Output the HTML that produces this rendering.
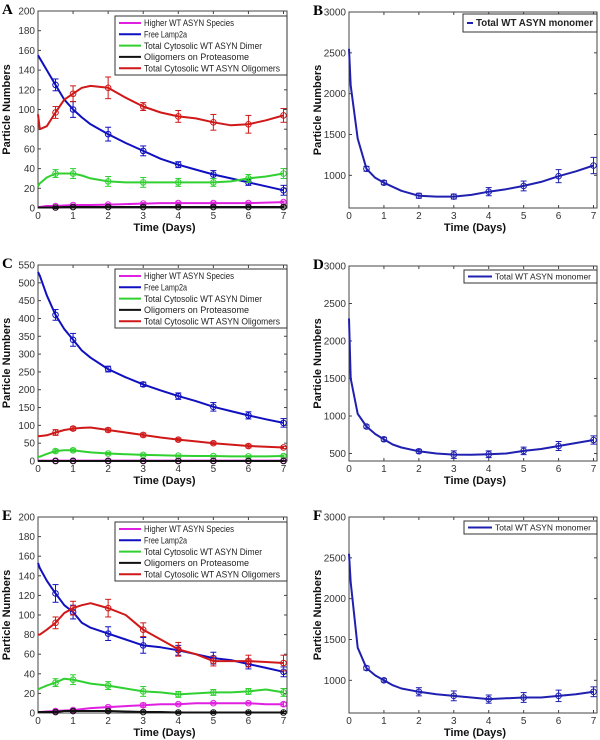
<!DOCTYPE html>
<html><head><meta charset="utf-8"><style>
html,body{margin:0;padding:0;background:#fff;width:600px;height:740px;overflow:hidden}
svg{display:block;font-family:"Liberation Sans",Arial,sans-serif}
</style></head><body>
<svg id="fig" width="600" height="740" viewBox="0 0 600 740"></svg>
<script>
const times=[0,0.05,0.25,0.5,0.75,1,1.25,1.5,2,2.5,3,3.5,4,4.5,5,5.5,6,6.5,7];
const markerTimes=[0.5,1,2,3,4,5,6,7];
const seriesNames=["Higher WT ASYN Species","Free Lamp2a","Total Cytosolic WT ASYN Dimer","Oligomers on Proteasome","Total Cytosolic WT ASYN Oligomers"];
const seriesColors=["#e020e0","#1010c0","#30d030","#111111","#d01818"];
const legendTextLengths=[90,43,118,105,136];
// Panel A
const aMagenta=[1,1,2,2,2.5,3,3,3,3.5,4,4.5,5,5,5,5,5,5,5.5,6];
const aBlue=[155,152,140,125,110,100,92,85,75,66,58,50,44,39,34,30,26,22,18];
const aGreen=[22,25,31,35,35,35,33,30,27,26,26,26,26,26,26,27,30,32,35];
const aBlack=[0.5,0.5,0.5,0.5,1,1,1,1,1,1,1,1,1,1,1,1,1,1,1];
const aRed=[95,80,83,97,110,116,122,124,122,112,103,97,93,91,87,84,85,89,94];
const aErrMagenta=[1,1,1,1,1,1,1,1];
const aErrBlue=[6,8,7,5,3,4,3,5];
const aErrGreen=[4,5,5,5,4,4,4,5];
const aErrBlack=[1,1,1,1,1,1,1,1];
const aErrRed=[6,8,11,4,6,8,9,7];
// Panel B
const bMono=[2550,2100,1450,1080,970,910,860,810,750,740,740,760,800,830,870,920,990,1050,1120];
const bErr=[30,25,30,30,50,60,80,100];
// Panel C
const cMagenta=[1,1,1,1,1,1,1,1,1,1,1,1,1,1,1,1,1,1,1];
const cBlue=[530,520,465,410,370,340,310,290,258,235,215,198,182,168,152,140,128,117,107];
const cGreen=[12,12,20,28,30,30,27,24,21,19,17,16,15,14,14,13,13,13,14];
const cBlack=[0,0,0,0,0,0,0,0,0,0,0,0,0,0,0,0,0,0,0];
const cRed=[70,70,72,80,87,91,93,94,87,80,73,66,60,55,50,46,42,40,38];
const cErrBlue=[15,18,8,6,9,12,10,12];
const cErrRed=[8,5,5,5,4,4,5,3];
const cErrGreen=[5,4,3,3,2,2,2,3];
const cErrSmall=[1,1,1,1,1,1,1,1];
// Panel D
const dMono=[2300,1500,1030,860,760,690,620,580,530,500,485,483,490,500,535,560,600,640,680];
const dErr=[20,25,25,50,45,50,60,55];
// Panel E
const eMagenta=[1,1,1.5,2,2.5,3,4,5,6,7,8,9,9,10,10,10,10,9,9];
const eBlue=[153,148,135,122,110,103,92,87,81,75,69,67,64,60,56,54,50,46,42];
const eGreen=[24,25,28,31,35,34,32,30,28,25,22,21,19,20,21,21,22,24,21];
const eBlack=[1,1,1,1,2,2,2,2,2,1.5,1,1,0.5,0.5,0.5,0.5,0.5,0.5,0.5];
const eRed=[80,80,85,92,102,107,110,112,107,100,85,75,65,60,53,53,53,52,51];
const eErrMagenta=[1,1,1,2,1,1,1,2];
const eErrBlue=[9,7,7,8,5,6,5,5];
const eErrGreen=[4,5,4,5,3,3,3,4];
const eErrBlack=[1,1,1,1,1,1,1,1];
const eErrRed=[6,7,9,7,7,5,6,8];
// Panel F
const fMono=[2550,2200,1400,1150,1060,1000,940,900,860,830,810,790,770,780,790,790,810,830,860];
const fErr=[25,20,50,60,50,60,70,60];
const xTicks=[0,1,2,3,4,5,6,7];

const NS="http://www.w3.org/2000/svg";
const svg=document.getElementById('fig');
function mk(tag,attrs,parent){const e=document.createElementNS(NS,tag);for(const k in attrs)e.setAttribute(k,attrs[k]);(parent||svg).appendChild(e);return e;}
function txt(s,attrs,parent){const e=mk('text',attrs,parent);e.textContent=s;return e;}

function interpAt(vals,t){for(let i=0;i<times.length-1;i++){if(t>=times[i]&&t<=times[i+1]){const f=(t-times[i])/(times[i+1]-times[i]);return vals[i]+f*(vals[i+1]-vals[i]);}}return vals[vals.length-1];}

function panel(cfg){
  const g=mk('g',{});
  
  
  const L=cfg.x0,R=cfg.x1,T=cfg.y0,B=cfg.y1;
  const xs=t=>L+t/7.1*(R-L);
  const ys=v=>B-(v-cfg.ymin)/(cfg.ymax-cfg.ymin)*(B-T);
  const lab=txt(cfg.letter,{x:L-36,y:T+3,'font-family':'Liberation Serif,serif','font-weight':'bold','font-size':15,fill:'#000'},g);
  
  
  mk('rect',{x:L,y:T,width:R-L,height:B-T,fill:'#fff',stroke:'#444','stroke-width':1},g);
  xTicks.forEach(t=>{const x=xs(t);
    mk('line',{x1:x,y1:B,x2:x,y2:B-3,stroke:'#444'},g);mk('line',{x1:x,y1:T,x2:x,y2:T+3,stroke:'#444'},g);
    const tl=txt(String(t),{x:x,y:B+11,'text-anchor':'middle','font-size':10,fill:'#333'},g);
    
    });
  cfg.yTicks.forEach(v=>{const y=ys(v);
    mk('line',{x1:L,y1:y,x2:L+3,y2:y,stroke:'#444'},g);mk('line',{x1:R,y1:y,x2:R-3,y2:y,stroke:'#444'},g);
    const tl=txt(String(v),{x:L-3,y:y+3.5,'text-anchor':'end','font-size':10,fill:'#333'},g);
    
    });
  const xt=txt('Time (Days)',{x:(L+R)/2+2,y:B+23,'text-anchor':'middle','font-size':11,'font-weight':'bold',fill:'#111'},g);
  
  
  const yx=L-28,yy=(T+B)/2;
  const yt=txt('Particle Numbers',{x:yx,y:yy,transform:`rotate(-90 ${yx} ${yy})`,'text-anchor':'middle','font-size':11,'font-weight':'bold',fill:'#111'},g);
  
  
  cfg.series.forEach((s,si)=>{
    const sg=mk('g',{},g);
    
    
    const pts=times.map((t,i)=>xs(t).toFixed(1)+','+ys(s.vals[i]).toFixed(1)).join(' ');
    mk('polyline',{points:pts,fill:'none',stroke:s.color,'stroke-width':2,'stroke-linejoin':'round'},sg);
    markerTimes.forEach((t,i)=>{const x=xs(t),v=interpAt(s.vals,t),e=s.err[i];
      const y1=ys(v-e),y2=ys(v+e);
      mk('line',{x1:x,y1:y1,x2:x,y2:y2,stroke:s.color,'stroke-width':1},sg);
      mk('line',{x1:x-3,y1:y1,x2:x+3,y2:y1,stroke:s.color,'stroke-width':1},sg);
      mk('line',{x1:x-3,y1:y2,x2:x+3,y2:y2,stroke:s.color,'stroke-width':1},sg);
      const c=mk('circle',{cx:x,cy:ys(v),r:2.8,fill:'none',stroke:s.color,'stroke-width':1},sg);
      
      
    });
  });
  const lg=cfg.legend;
  const lgg=mk('g',{},g);
  
  
  mk('rect',{x:lg.x,y:lg.y,width:lg.w,height:lg.h,fill:'#fff',stroke:'#333','stroke-width':1},lgg);
  lg.items.forEach((it,i)=>{
    const y=lg.y+lg.pad+i*lg.step;
    const e=mk('g',{},lgg);
    
    
    mk('line',{x1:lg.x+4,y1:y,x2:lg.x+lg.lineW,y2:y,stroke:it.color,'stroke-width':2},e);
    txt(it.name,{x:lg.x+lg.lineW+3,y:y+3.2,'font-size':lg.fs,'font-weight':lg.bold?'bold':'normal',fill:'#222',textLength:it.tl,lengthAdjust:'spacingAndGlyphs'},e);
  });
}
function multi(vals,errs){return seriesNames.map((n,i)=>({key:['higher','lamp2a','dimer','proteasome','oligomers'][i],color:seriesColors[i],vals:vals[i],err:errs[i]}));}
function legMulti(y){return {x:115,y:y,w:172,h:59,pad:7,step:11.3,lineW:26,fs:9,items:seriesNames.map((n,i)=>({name:n,color:seriesColors[i],tl:legendTextLengths[i]}))};}

panel({letter:'A',x0:38,x1:287,y0:11,y1:208,ymin:0,ymax:200,yTicks:[0,20,40,60,80,100,120,140,160,180,200],
  series:multi([aMagenta,aBlue,aGreen,aBlack,aRed],[aErrMagenta,aErrBlue,aErrGreen,aErrBlack,aErrRed]),legend:legMulti(16)});
panel({letter:'B',x0:349,x1:597,y0:12,y1:208,ymin:600,ymax:3000,yTicks:[1000,1500,2000,2500,3000],
  series:[{key:'monomer',color:'#2020b0',vals:bMono,err:bErr}],
  legend:{x:463,y:14,w:134,h:18,pad:9,step:0,lineW:10,fs:10,bold:true,items:[{name:'Total WT ASYN monomer',color:'#2020b0',tl:117}]}});
panel({letter:'C',x0:38,x1:287,y0:265,y1:461,ymin:0,ymax:550,yTicks:[0,50,100,150,200,250,300,350,400,450,500,550],
  series:multi([cMagenta,cBlue,cGreen,cBlack,cRed],[cErrSmall,cErrBlue,cErrGreen,cErrSmall,cErrRed]),legend:legMulti(269)});
panel({letter:'D',x0:349,x1:597,y0:266,y1:461,ymin:400,ymax:3000,yTicks:[500,1000,1500,2000,2500,3000],
  series:[{key:'monomer',color:'#2020b0',vals:dMono,err:dErr}],
  legend:{x:464,y:270,w:133,h:13,pad:6.5,step:0,lineW:28,fs:8.5,items:[{name:'Total WT ASYN monomer',color:'#2020b0',tl:96}]}});
panel({letter:'E',x0:38,x1:287,y0:517,y1:713,ymin:0,ymax:200,yTicks:[0,20,40,60,80,100,120,140,160,180,200],
  series:multi([eMagenta,eBlue,eGreen,eBlack,eRed],[eErrMagenta,eErrBlue,eErrGreen,eErrBlack,eErrRed]),legend:legMulti(522)});
panel({letter:'F',x0:349,x1:597,y0:517,y1:713,ymin:600,ymax:3000,yTicks:[1000,1500,2000,2500,3000],
  series:[{key:'monomer',color:'#2020b0',vals:fMono,err:fErr}],
  legend:{x:464,y:521,w:133,h:13,pad:6.5,step:0,lineW:28,fs:8.5,items:[{name:'Total WT ASYN monomer',color:'#2020b0',tl:96}]}});
</script>
</body></html>
